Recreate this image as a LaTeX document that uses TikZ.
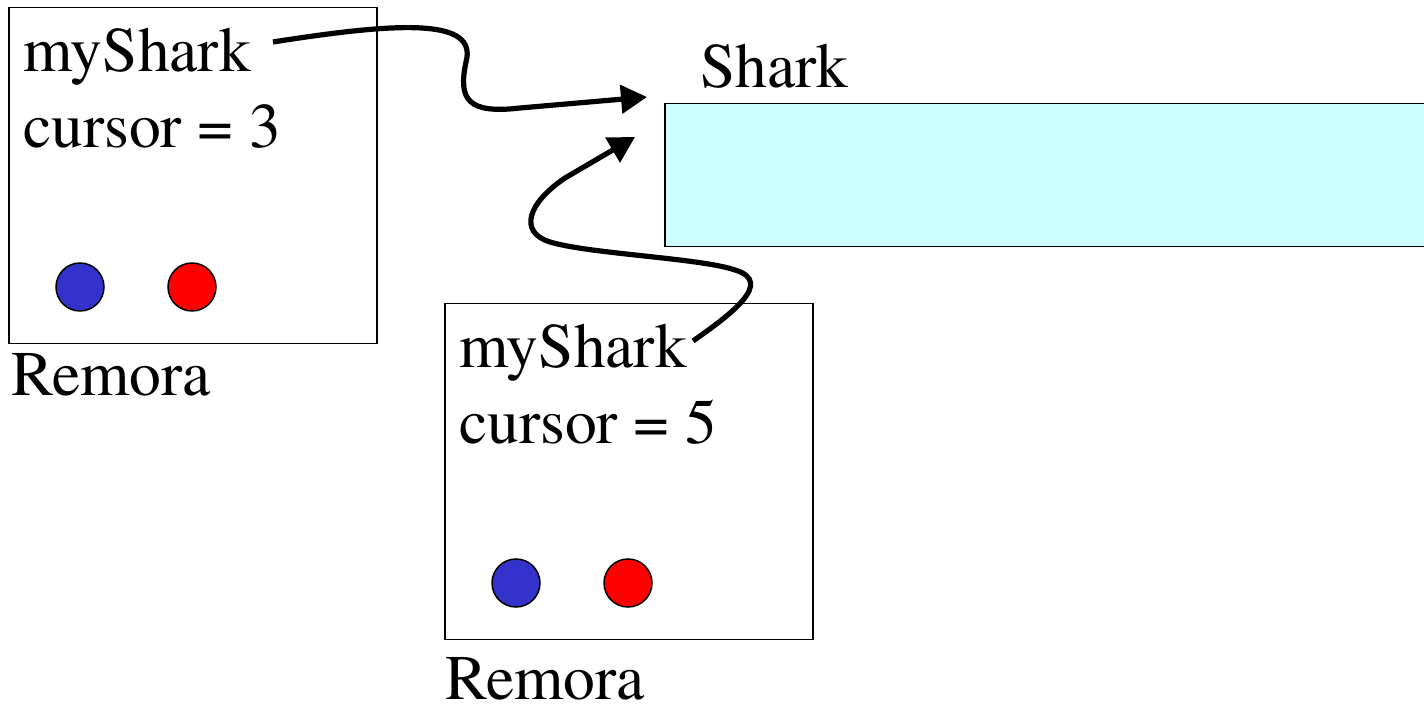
\documentclass[tikz,border=0pt]{standalone}
\usepackage{fontspec}
\setmainfont{texgyretermes-regular.otf}
\usetikzlibrary{arrows.meta}
\definecolor{ballblue}{HTML}{3333CC}
\definecolor{ballred}{HTML}{FF0000}
\definecolor{sharkfill}{HTML}{CCFFFF}
\begin{document}
\begin{tikzpicture}[x=0.5pt,y=-0.5pt,
  lbl/.style={anchor=base west,inner sep=0pt,font=\rmfamily\fontsize{31.75}{38}\selectfont},
  objbox/.style={draw,line width=0.75pt,anchor=north west,minimum width=184pt,minimum height=168pt,inner sep=0pt},
  ball/.style={circle,draw,line width=0.75pt,minimum size=24pt,inner sep=0pt},
  ptr/.style={line width=2.6pt,-{Triangle[length=13pt,width=14pt]}}]
\useasboundingbox (0,0) rectangle (1424,704);
% Shark object
\node[draw,line width=0.75pt,fill=sharkfill,anchor=north west,minimum width=384pt,minimum height=71.5pt,inner sep=0pt] (shark) at (664,103) {};
\node[lbl] (sharklbl) at (700,88) {Shark};
% Remora 1
\node[objbox] (r1) at (8,7) {};
\node[lbl] (ms1) at (23,72) {myShark};
\node[lbl] (cu1) at (23,148) {cursor = 3};
\node[ball,fill=ballblue] (b1) at (80,287) {};
\node[ball,fill=ballred] (c1) at (192,287) {};
\node[lbl] (rl1) at (11,396) {Remora};
% Remora 2
\node[objbox] (r2) at (444,303) {};
\node[lbl] (ms2) at (459,368) {myShark};
\node[lbl] (cu2) at (459,444) {cursor = 5};
\node[ball,fill=ballblue] (b2) at (516,583) {};
\node[ball,fill=ballred] (c2) at (628,583) {};
\node[lbl] (rl2) at (445,700) {Remora};
% pointers
\coordinate (p1s) at (273,42);
\coordinate (p1e) at (647,97);
\coordinate (p2s) at (693,341);
\coordinate (p2e) at (635,137);
\draw[ptr] (p1s) .. controls (400,22) and (478,18) .. (466,62)
  .. controls (458,100) and (468,114) .. (520,108) -- (p1e);
\draw[ptr] (p2s) .. controls (730,315) and (775,282) .. (735,270)
  .. controls (700,258) and (590,254) .. (550,242)
  .. controls (518,232) and (528,203) .. (565,178) -- (p2e);
\end{tikzpicture}
\end{document}
